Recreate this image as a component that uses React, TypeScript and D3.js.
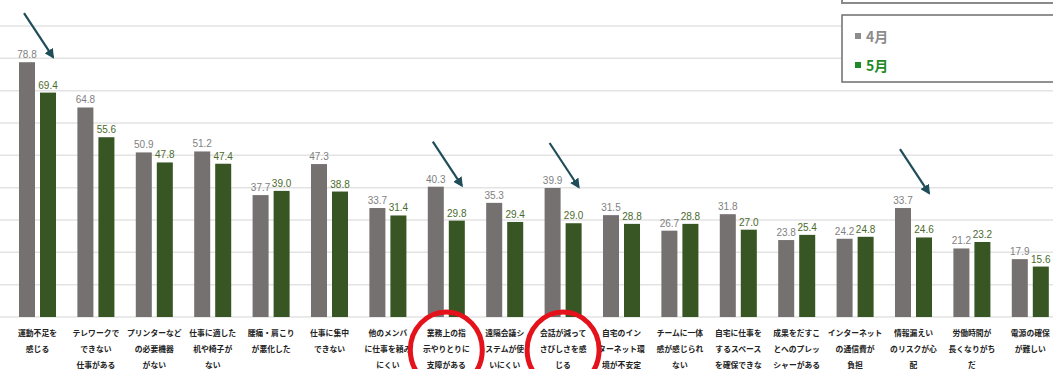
import React from "react";
import * as d3 from "d3";

const categories: string[][] = [
  ["運動不足を", "感じる"],
  ["テレワークで", "できない", "仕事がある"],
  ["プリンターなど", "の必要機器", "がない"],
  ["仕事に適した", "机や椅子が", "ない"],
  ["腰痛・肩こり", "が悪化した"],
  ["仕事に集中", "できない"],
  ["他のメンバ", "に仕事を頼み", "にくい"],
  ["業務上の指", "示やりとりに", "支障がある"],
  ["遠隔会議シ", "ステムが使", "いにくい"],
  ["会話が減って", "さびしさを感", "じる"],
  ["自宅のイン", "ターネット環", "境が不安定"],
  ["チームに一体", "感が感じられ", "ない"],
  ["自宅に仕事を", "するスペース", "を確保できな"],
  ["成果をだすこ", "とへのプレッ", "シャーがある"],
  ["インターネット", "の通信費が", "負担"],
  ["情報漏えい", "のリスクが心", "配"],
  ["労働時間が", "長くなりがち", "だ"],
  ["電源の確保", "が難しい"],
];

const april: number[] = [78.8, 64.8, 50.9, 51.2, 37.7, 47.3, 33.7, 40.3, 35.3, 39.9, 31.5, 26.7, 31.8, 23.8, 24.2, 33.7, 21.2, 17.9];
const may: number[] = [69.4, 55.6, 47.8, 47.4, 39.0, 38.8, 31.4, 29.8, 29.4, 29.0, 28.8, 28.8, 27.0, 25.4, 24.8, 24.6, 23.2, 15.6];

const seriesNames = ["4月", "5月"];
const yTicks = [0, 10, 20, 30, 40, 50, 60, 70, 80, 90];

// annotation arrows point at these category indices
const arrowIdx = [0, 7, 9, 15];
// red circles around these category labels
const circleIdx = [7, 9];

const W = 1053;
const H = 369;
const GRAY = "#767171";
const GREEN = "#375623";

export default function App() {
  const idx = categories.map((_, i) => String(i));
  const x = d3.scaleBand<string>().domain(idx).range([8.3, 1059.5]).paddingInner(0.366).paddingOuter(0.183);
  const xs = d3.scaleBand<string>().domain(seriesNames).range([0, x.bandwidth()]).paddingInner(0.238);
  const y = d3.scaleLinear().domain([0, 90]).range([317, 26]);
  const font = "'Liberation Sans', Arial, sans-serif";
  const jp = "'Noto Sans CJK JP', sans-serif";

  return (
    <svg width={W} height={H} style={{ position: "absolute", left: 0, top: 0 }} xmlns="http://www.w3.org/2000/svg">
      <defs>
        <marker id="ah" viewBox="0 0 10 10" refX="8" refY="5" markerWidth="4.5" markerHeight="4.5" orient="auto">
          <path d="M0,0 L10,5 L0,10 z" fill="#1f4e5a" />
        </marker>
      </defs>
      <rect x={0} y={0} width={W} height={H} fill="#fff" />
      {yTicks.map((t) => (
        <line key={t} x1={0} x2={W} y1={y(t)} y2={y(t)} stroke="#e3e3e3" strokeWidth={1.5} />
      ))}
      {categories.map((lines, i) => {
        const x0 = x(String(i))!;
        const data = [april[i], may[i]];
        return (
          <g key={i}>
            {data.map((v, j) => {
              const bx = x0 + xs(seriesNames[j])!;
              return (
                <g key={j}>
                  <rect x={bx} y={y(v)} width={xs.bandwidth()} height={y(0) - y(v)} fill={j === 0 ? GRAY : GREEN} />
                  <text x={bx + xs.bandwidth() / 2} y={y(v) - 4} textAnchor="middle" fontFamily={font} fontSize={10} fill={j === 0 ? "#7f7f7f" : "#4b6b2d"}>
                    {v.toFixed(1)}
                  </text>
                </g>
              );
            })}
            {lines.map((ln, k) => (
              <text key={k} x={x0 + x.bandwidth() / 2} y={336 + k * 16} textAnchor="middle" fontFamily={jp} fontWeight={700} fontSize={7.8} fill="#222">
                {ln}
              </text>
            ))}
          </g>
        );
      })}
      {arrowIdx.map((i) => {
        const gx = x(String(i))! + xs(seriesNames[1])! + xs.bandwidth() / 2 + 5;
        const ty = y(april[i]) - (i === 15 ? 15 : i === 0 ? 5 : 1);
        return <line key={i} x1={gx - 29} y1={ty - 44} x2={gx} y2={ty} stroke="#1f4e5a" strokeWidth={2.2} markerEnd="url(#ah)" />;
      })}
      {circleIdx.map((i) => (
        <ellipse key={i} cx={x(String(i))! + x.bandwidth() / 2} cy={350} rx={36} ry={38} fill="none" stroke="#e3121b" strokeWidth={5} />
      ))}
      <rect x={842} y={-20} width={230} height={23} fill="#fff" stroke="#8a8a8a" strokeWidth={2} />
      <rect x={842} y={15} width={230} height={67} fill="#fff" stroke="#6e6e6e" strokeWidth={1.5} />
      <rect x={855} y={33} width={6} height={6} fill="#8c8c8c" />
      <text x={866} y={42} fontFamily={jp} fontWeight={700} fontSize={14} fill="#8c8c8c">4月</text>
      <rect x={855} y={62} width={6} height={6} fill="#1e8a26" />
      <text x={866} y={71} fontFamily={jp} fontWeight={700} fontSize={14} fill="#1e8a26">5月</text>
    </svg>
  );
}
